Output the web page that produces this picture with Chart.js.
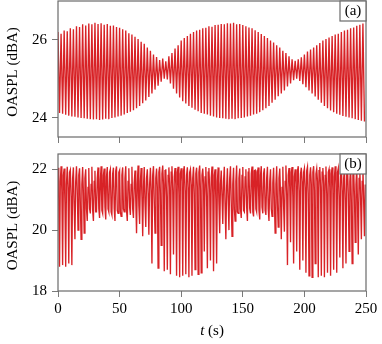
<!DOCTYPE html>
<html><head><meta charset="utf-8">
<script src="https://cdn.jsdelivr.net/npm/chart.js@4.4.1/dist/chart.umd.min.js"></script>
<style>
html,body{margin:0;padding:0;background:#fff;}
#wrap{position:relative;width:382px;height:344px;overflow:hidden;}
canvas{position:absolute;left:0;}
#c1{top:0;}
#c2{top:145px;}
</style></head>
<body><div id="wrap"><canvas id="c1" width="382" height="145"></canvas><canvas id="c2" width="382" height="199"></canvas></div>
<script>
// ---------- data ----------
const cycleStep = 2.5; // seconds per oscillation cycle
const xTicks = [0, 50, 100, 150, 200, 250];
const yTicksA = [24, 26];
const yTicksB = [18, 20, 22];
const panelLabels = ['(a)', '(b)'];
const yTitle = 'OASPL (dBA)';

// panel (a): local maxima and minima of each cycle
const aHigh = [26.20,26.16,26.24,26.22,26.30,26.27,26.35,26.33,26.40,26.37,
  26.42,26.40,26.44,26.41,26.43,26.39,26.41,26.36,26.37,26.33,
  26.31,26.27,26.24,26.17,26.14,26.08,26.02,25.95,25.90,25.80,
  25.72,25.62,25.56,25.48,25.52,25.45,25.58,25.66,25.78,25.86,
  25.98,26.05,26.10,26.16,26.20,26.24,26.26,26.30,26.31,26.35,
  26.34,26.38,26.39,26.41,26.40,26.43,26.42,26.44,26.40,26.41,
  26.38,26.35,26.32,26.30,26.25,26.20,26.15,26.10,26.05,25.98,
  25.93,25.86,25.80,25.72,25.66,25.58,25.50,25.46,25.50,25.55,
  25.62,25.70,25.75,25.80,25.86,25.92,25.98,26.02,26.06,26.10,
  26.14,26.16,26.20,26.24,26.26,26.30,26.32,26.36,26.39,26.42];
const aLow = [24.12,24.10,24.07,24.05,24.03,24.02,24.00,23.99,23.98,23.97,
  23.96,23.95,23.96,23.94,23.95,23.97,23.96,23.99,24.00,24.03,
  24.05,24.08,24.12,24.15,24.19,24.24,24.30,24.37,24.44,24.53,
  24.62,24.72,24.82,24.92,25.00,24.98,24.88,24.74,24.62,24.52,
  24.42,24.36,24.30,24.25,24.20,24.16,24.12,24.10,24.08,24.05,
  24.03,24.00,23.99,23.98,23.97,23.96,23.97,23.96,23.98,23.99,
  24.00,24.03,24.05,24.08,24.10,24.14,24.19,24.24,24.30,24.38,
  24.46,24.55,24.62,24.70,24.80,24.88,24.96,25.00,24.94,24.86,
  24.78,24.70,24.62,24.54,24.46,24.38,24.30,24.24,24.18,24.14,
  24.10,24.07,24.04,24.02,24.00,23.98,23.96,23.94,23.92,23.90];

// panel (b): peak, lower band, dip, upper band of each cycle
const bPeak = [22.05,22.10,22.02,22.08,21.98,22.06,22.10,22.03,22.07,22.00,
  22.04,22.08,21.95,22.06,22.10,22.02,22.07,22.00,22.05,22.09,
  21.97,22.06,22.10,22.03,22.08,21.96,22.12,22.04,22.07,22.00,
  22.05,22.10,22.02,22.08,22.12,22.00,22.06,22.10,22.04,22.08,
  22.03,22.10,22.06,22.00,22.08,22.05,22.12,22.02,22.07,22.04,
  22.09,22.00,22.06,21.96,22.08,22.03,22.10,22.05,22.12,22.02,
  22.07,22.00,22.04,22.09,21.97,22.06,22.10,22.03,22.08,22.00,
  22.05,22.10,22.02,22.08,22.12,22.04,22.07,22.00,22.10,22.05,
  22.03,22.08,22.06,22.10,22.02,22.07,22.04,22.09,22.00,22.06,
  22.10,22.03,22.08,22.00,22.05,22.09,21.98,22.06,22.02,22.08];
const bBandLow = [21.0,21.3,20.9,21.4,21.1,20.8,21.3,20.9,21.2,20.7,
  20.7,20.65,20.6,20.7,20.65,20.75,20.7,20.6,20.7,20.65,20.6,20.7,20.65,20.75,20.7,
  21.0,20.8,21.1,20.9,21.2,
  21.3,21.0,21.4,21.2,21.5,21.1,21.4,21.3,21.5,21.2,21.6,21.3,21.4,21.5,21.2,21.4,21.3,21.5,21.1,21.3,21.2,21.0,
  20.9,21.1,20.8,21.0,20.9,
  20.7,20.6,20.7,20.65,20.75,20.7,20.6,20.7,20.65,20.75,20.65,20.7,20.7,
  21.0,20.9,21.1,20.8,
  21.2,21.4,21.1,21.5,21.3,21.6,21.4,21.2,21.5,21.3,21.6,21.4,21.5,21.2,21.4,21.3,21.5,21.1,21.3,21.0,21.2,20.9,21.1,20.8,21.0,20.9];
const bDip = [18.8,18.85,18.8,18.9,18.85,19.7,20.0,19.7,19.9,20.3,
  20.55,20.3,20.6,20.4,20.55,20.35,20.6,20.5,20.3,20.55,
  20.45,20.6,20.3,20.5,20.4,19.9,20.2,19.8,20.1,19.85,
  18.9,19.9,18.75,19.5,18.65,18.7,18.55,19.2,18.5,18.45,
  18.5,18.55,18.45,18.5,18.7,18.55,18.6,19.3,18.75,19.0,
  18.65,18.9,19.9,20.2,19.7,20.0,19.8,20.3,20.55,20.4,
  20.6,20.3,20.55,20.45,20.6,20.35,20.55,20.5,20.3,20.45,
  19.9,20.1,19.7,19.95,18.85,19.6,18.9,19.3,18.7,19.0,
  18.6,18.5,18.45,18.9,18.45,18.5,18.45,18.6,18.5,18.7,
  18.6,19.1,18.75,18.9,19.3,18.9,19.6,19.2,19.7,19.8];
const bBandHigh = [21.6,21.8,21.5,21.9,21.7,21.6,21.8,21.5,21.7,21.4,
  21.5,21.6,21.7,21.65,21.8,21.75,21.9,21.85,21.95,21.9,21.8,21.7,21.6,21.5,21.55,
  21.5,21.6,21.4,21.7,21.5,
  21.8,21.7,21.9,21.85,21.95,21.8,21.9,21.75,21.9,21.85,21.95,21.8,21.9,21.7,21.85,21.9,21.8,21.75,21.9,21.7,21.8,21.6,
  21.5,21.6,21.4,21.7,21.5,
  21.6,21.7,21.8,21.75,21.9,21.85,21.95,21.9,21.8,21.85,21.7,21.6,21.55,
  21.5,21.7,21.4,21.6,
  21.8,21.9,21.75,21.95,21.85,21.9,21.95,21.8,21.9,21.85,21.95,21.9,21.8,21.9,21.85,21.75,21.9,21.8,21.7,21.85,21.6,21.8,21.5,21.7,21.6,21.5];

// ---------- build point lists ----------
const ptsA = [];
for (let i = 0; i < aHigh.length; i++) {
  const t = i * cycleStep;
  ptsA.push({x: t, y: aHigh[i]});
  ptsA.push({x: t + cycleStep / 2, y: aLow[i]});
}
const ptsB = [];
for (let i = 0; i < bPeak.length; i++) {
  const t = i * cycleStep;
  ptsB.push({x: t, y: bPeak[i]});
  ptsB.push({x: t + cycleStep * 0.25, y: bBandLow[i]});
  ptsB.push({x: t + cycleStep * 0.5, y: bDip[i]});
  ptsB.push({x: t + cycleStep * 0.75, y: bBandHigh[i]});
}

const FONT = "'Liberation Serif', 'Times New Roman', serif";
const RED = 'rgb(216,34,38)';
const FRAME = '#6a6a6a';

function framePlugin(label, xTitle) {
  return {
    id: 'frame',
    afterDraw(chart) {
      const {ctx, chartArea: a} = chart;
      ctx.save();
      ctx.strokeStyle = FRAME;
      ctx.lineWidth = 1.2;
      ctx.strokeRect(a.left, a.top, a.right - a.left, a.bottom - a.top);
      // label box
      const bw = 26, bh = 20;
      ctx.fillStyle = '#fff';
      ctx.fillRect(a.right - bw, a.top, bw, bh);
      ctx.strokeRect(a.right - bw, a.top, bw, bh);
      ctx.fillStyle = '#000';
      ctx.font = '15px ' + FONT;
      ctx.textAlign = 'center';
      ctx.textBaseline = 'middle';
      ctx.fillText(label, a.right - bw / 2, a.top + bh / 2 + 0.5);
      // y title
      ctx.save();
      ctx.translate(13, (a.top + a.bottom) / 2 + 3);
      ctx.rotate(-Math.PI / 2);
      ctx.font = '15px ' + FONT;
      ctx.fillText(yTitle, 0, 0);
      ctx.restore();
      if (xTitle) {
        const cx = (a.left + a.right) / 2, cy = a.bottom + 40;
        ctx.font = 'italic 15px ' + FONT;
        const w1 = ctx.measureText('t').width;
        ctx.font = '15px ' + FONT;
        const w2 = ctx.measureText(' (s)').width;
        const x0 = cx - (w1 + w2) / 2;
        ctx.textAlign = 'left';
        ctx.font = 'italic 15px ' + FONT;
        ctx.fillText('t', x0, cy);
        ctx.font = '15px ' + FONT;
        ctx.fillText(' (s)', x0 + w1, cy);
      }
      ctx.restore();
    }
  };
}

function zeroPad(s) { s.paddingTop = 0; s.paddingBottom = 0; s.paddingLeft = 0; s.paddingRight = 0; }

function makeChart(id, pts, yMin, yMax, yTicks, label, showX, padTop, xHeight) {
  return new Chart(document.getElementById(id), {
    type: 'line',
    data: {datasets: [{data: pts, borderColor: RED, borderWidth: 1.35, pointRadius: 0, tension: 0, fill: false}]},
    options: {
      responsive: false, animation: false, devicePixelRatio: 1,
      layout: {padding: {left: 0, right: 16, top: padTop, bottom: 0}},
      plugins: {legend: {display: false}, tooltip: {enabled: false}},
      scales: {
        x: {
          type: 'linear', min: 0, max: 250,
          afterBuildTicks(s) { s.ticks = xTicks.map(v => ({value: v})); },
          afterFit(s) { s.height = xHeight; zeroPad(s); },
          grid: {drawOnChartArea: false, drawTicks: true, tickLength: 6, color: '#7a7a7a'},
          border: {display: false},
          ticks: {display: showX, color: '#000', font: {family: FONT, size: 15}, padding: 3, maxRotation: 0}
        },
        y: {
          min: yMin, max: yMax,
          afterBuildTicks(s) { s.ticks = yTicks.map(v => ({value: v})); },
          afterFit(s) { s.width = 58; zeroPad(s); },
          grid: {drawOnChartArea: false, drawTicks: true, tickLength: 6, color: '#7a7a7a'},
          border: {display: false},
          ticks: {color: '#000', font: {family: FONT, size: 15}, padding: 5}
        }
      }
    },
    plugins: [framePlugin(label, showX)]
  });
}

makeChart('c1', ptsA, 23.5, 27, yTicksA, panelLabels[0], false, 1, 8);
makeChart('c2', ptsB, 18, 22.5, yTicksB, panelLabels[1], true, 9, 53);
</script></body></html>
